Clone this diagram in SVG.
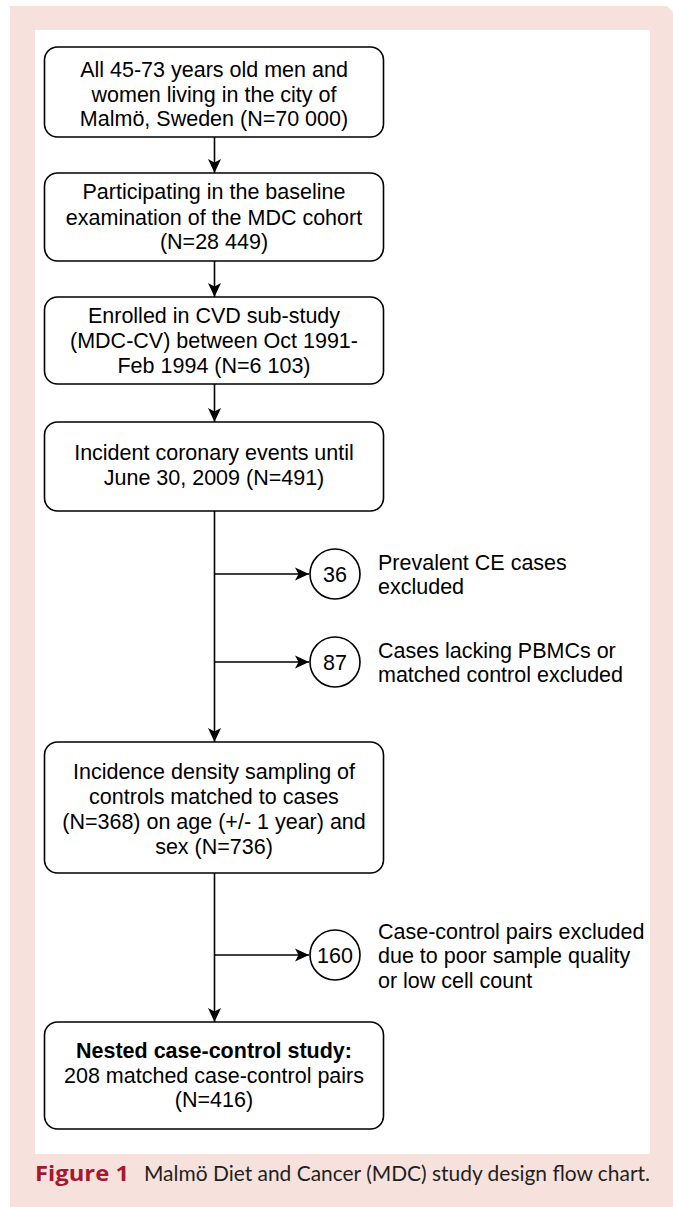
<svg xmlns="http://www.w3.org/2000/svg" width="673" height="1207" viewBox="0 0 673 1207">
<style>
.box{fill:#fff;stroke:#000;stroke-width:1.6}
.circ{fill:#fff;stroke:#000;stroke-width:1.6}
.t{font-family:"Liberation Sans",Arial,sans-serif;font-size:21.5px;fill:#000}
.c{text-anchor:middle}
.b{font-weight:bold}
.ln{fill:none;stroke:#000;stroke-width:1.6}
.cap{font-family:Lato,"Open Sans",sans-serif;font-size:21px;fill:#231f20}
.fig{font-family:"Open Sans",Lato,sans-serif;font-weight:bold;font-size:21px;fill:#a31a30}
</style>
<defs>
<marker id="arr" markerUnits="userSpaceOnUse" markerWidth="16" markerHeight="14" viewBox="-14 -7 16 14" refX="0" refY="0" orient="auto">
<path d="M-14,-6.5 L0,0 L-14,6.5 L-10.5,0 z" fill="#000"/>
</marker>
</defs>
<path d="M10,6 H667 L673,12 V1207 H10 Z" fill="#f6e1dc"/>
<rect x="35" y="30" width="615" height="1124" fill="#fff"/>
<g id="connectors">
<line class="ln" x1="214.5" y1="137" x2="214.5" y2="173" marker-end="url(#arr)"/>
<line class="ln" x1="214.5" y1="261" x2="214.5" y2="297" marker-end="url(#arr)"/>
<line class="ln" x1="214.5" y1="384" x2="214.5" y2="422" marker-end="url(#arr)"/>
<line class="ln" x1="214.5" y1="511" x2="214.5" y2="742" marker-end="url(#arr)"/>
<line class="ln" x1="214.5" y1="574" x2="309" y2="574" marker-end="url(#arr)"/>
<line class="ln" x1="214.5" y1="662" x2="309" y2="662" marker-end="url(#arr)"/>
<line class="ln" x1="214.5" y1="873" x2="214.5" y2="1022" marker-end="url(#arr)"/>
<line class="ln" x1="214.5" y1="955" x2="309" y2="955" marker-end="url(#arr)"/>
</g>
<g id="n1">
<rect class="box" x="44.5" y="47" width="339" height="90" rx="13"/>
<text class="t c" x="214" y="77">All 45-73 years old men and</text>
<text class="t c" x="214" y="102">women living in the city of</text>
<text class="t c" x="214" y="126">Malmö, Sweden (N=70 000)</text>
</g>
<g id="n2">
<rect class="box" x="44.5" y="173" width="339" height="88" rx="13"/>
<text class="t c" x="214" y="199">Participating in the baseline</text>
<text class="t c" x="214" y="225">examination of the MDC cohort</text>
<text class="t c" x="214" y="249">(N=28 449)</text>
</g>
<g id="n3">
<rect class="box" x="44.5" y="297" width="339" height="87" rx="13"/>
<text class="t c" x="214" y="323">Enrolled in CVD sub-study</text>
<text class="t c" x="214" y="348">(MDC-CV) between Oct 1991-</text>
<text class="t c" x="214" y="373">Feb 1994 (N=6 103)</text>
</g>
<g id="n4">
<rect class="box" x="44.5" y="422" width="339" height="89" rx="13"/>
<text class="t c" x="214" y="460">Incident coronary events until</text>
<text class="t c" x="214" y="485">June 30, 2009 (N=491)</text>
</g>
<g id="e36">
<circle class="circ" cx="335" cy="574" r="25"/>
<text class="t c" x="335" y="581.5">36</text>
<text class="t" x="378" y="570">Prevalent CE cases</text>
<text class="t" x="378" y="594">excluded</text>
</g>
<g id="e87">
<circle class="circ" cx="335" cy="662" r="25"/>
<text class="t c" x="335" y="669.5">87</text>
<text class="t" x="378" y="658">Cases lacking PBMCs or</text>
<text class="t" x="378" y="682">matched control excluded</text>
</g>
<g id="n5">
<rect class="box" x="44.5" y="742" width="339" height="131" rx="13"/>
<text class="t c" x="214" y="779">Incidence density sampling of</text>
<text class="t c" x="214" y="804">controls matched to cases</text>
<text class="t c" x="214" y="829">(N=368) on age (+/- 1 year) and</text>
<text class="t c" x="214" y="854">sex (N=736)</text>
</g>
<g id="e160">
<circle class="circ" cx="335" cy="955" r="25"/>
<text class="t c" x="335" y="962.5">160</text>
<text class="t" x="378" y="939">Case-control pairs excluded</text>
<text class="t" x="378" y="963">due to poor sample quality</text>
<text class="t" x="378" y="988">or low cell count</text>
</g>
<g id="n6">
<rect class="box" x="44.5" y="1022" width="339" height="107" rx="13"/>
<text class="t c b" x="214" y="1058">Nested case-control study:</text>
<text class="t c" x="214" y="1083">208 matched case-control pairs</text>
<text class="t c" x="214" y="1107">(N=416)</text>
</g>
<g id="caption">
<text class="fig" x="35" y="1181" textLength="94" lengthAdjust="spacingAndGlyphs">Figure 1</text>
<text class="cap" x="144" y="1181" textLength="506" lengthAdjust="spacingAndGlyphs">Malmö Diet and Cancer (MDC) study design flow chart.</text>
</g>
</svg>
